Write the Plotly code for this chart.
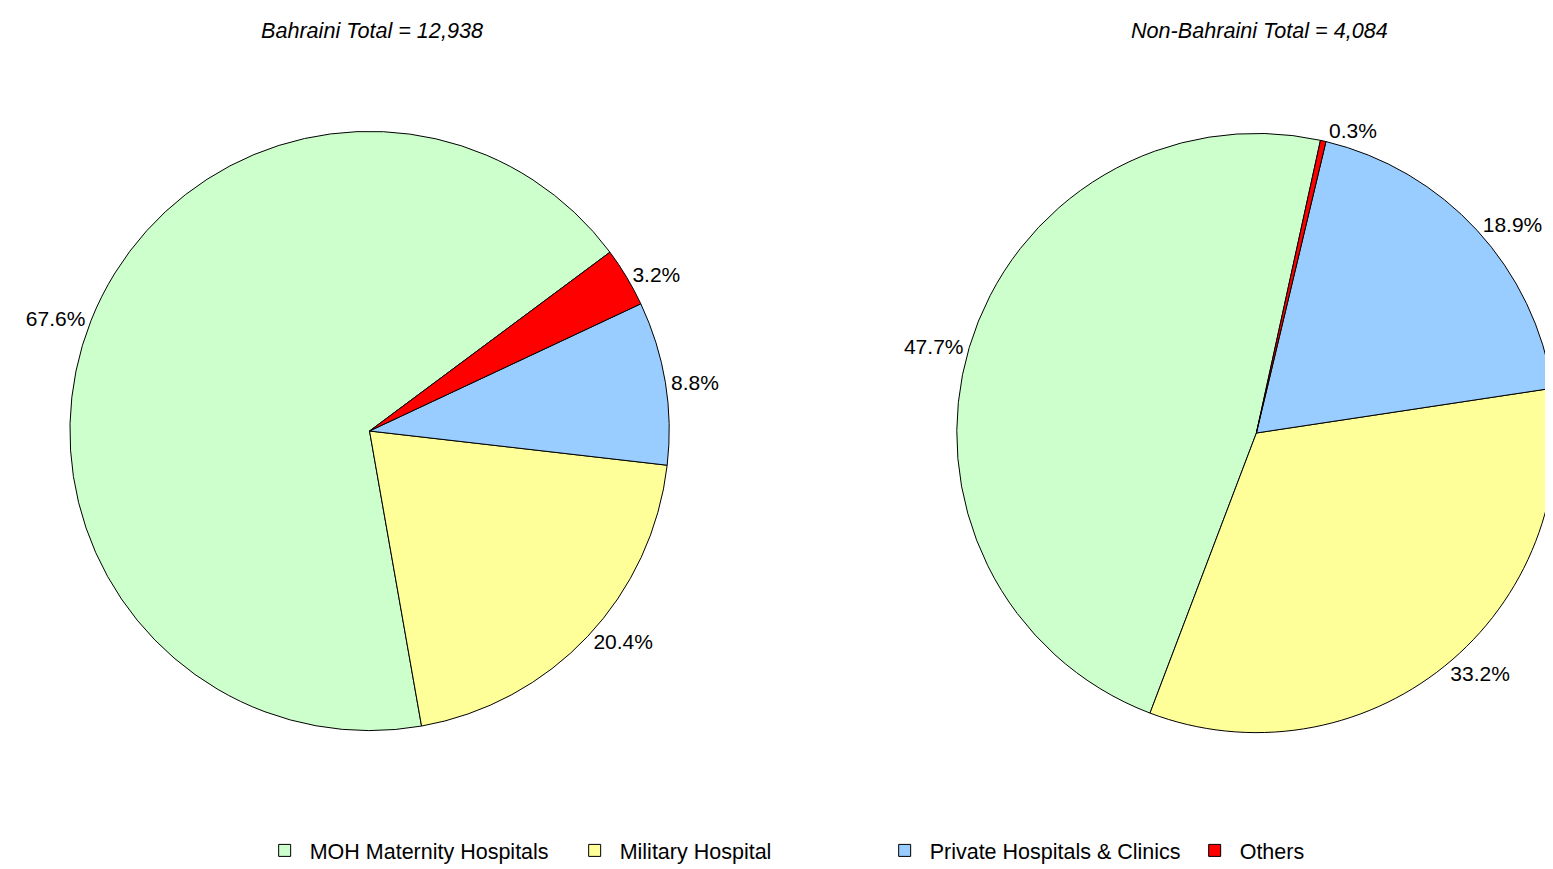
import plotly.graph_objects as go

# categories and shares (%)
categories = ["MOH Maternity Hospitals", "Military Hospital",
              "Private Hospitals & Clinics", "Others"]
bahraini_pct = [67.6, 20.4, 8.8, 3.2]
non_bahraini_pct = [47.7, 33.2, 18.9, 0.3]
bahraini_total = "12,938"
non_bahraini_total = "4,084"

colors = ["#CCFFCC", "#FFFF99", "#99CCFF", "#FF0000"]

W, H = 1553, 869

def pie(values, dom_x, dom_y, rot):
    return go.Pie(
        labels=categories, values=values, sort=False,
        direction="counterclockwise", rotation=rot,
        marker=dict(colors=colors, line=dict(color="black", width=1)),
        textposition="outside", texttemplate="%{value:.1f}%",
        textfont=dict(size=21, color="black"),
        domain=dict(x=dom_x, y=dom_y), hoverinfo="label+value",
    )

left = pie(bahraini_pct, [62 / W, 662 / W], [146 / H, 746 / H], 170)
right = pie(non_bahraini_pct, [950 / W, 1550 / W], [144 / H, 744 / H], 200.8)

fig = go.Figure(data=[left, right])
fig.update_layout(
    width=W, height=H,
    margin=dict(l=0, r=0, t=0, b=0),
    paper_bgcolor="white",
    font=dict(family="Liberation Sans, Arial, sans-serif", size=21, color="black"),
    legend=dict(orientation="h", x=0.562, xanchor="center", y=0.007, yanchor="bottom",
                font=dict(size=21.5), itemwidth=40, entrywidth=255),
    annotations=[
        dict(text="<i>Bahraini Total = " + bahraini_total + "</i>", x=364 / W, y=1 - 22 / H,
             xref="paper", yref="paper", xanchor="center", yanchor="middle",
             showarrow=False, font=dict(size=21.6)),
        dict(text="<i>Non-Bahraini Total = " + non_bahraini_total + "</i>", x=1253 / W, y=1 - 22 / H,
             xref="paper", yref="paper", xanchor="center", yanchor="middle",
             showarrow=False, font=dict(size=21.6)),
    ],
)
fig.write_html("out.html")
